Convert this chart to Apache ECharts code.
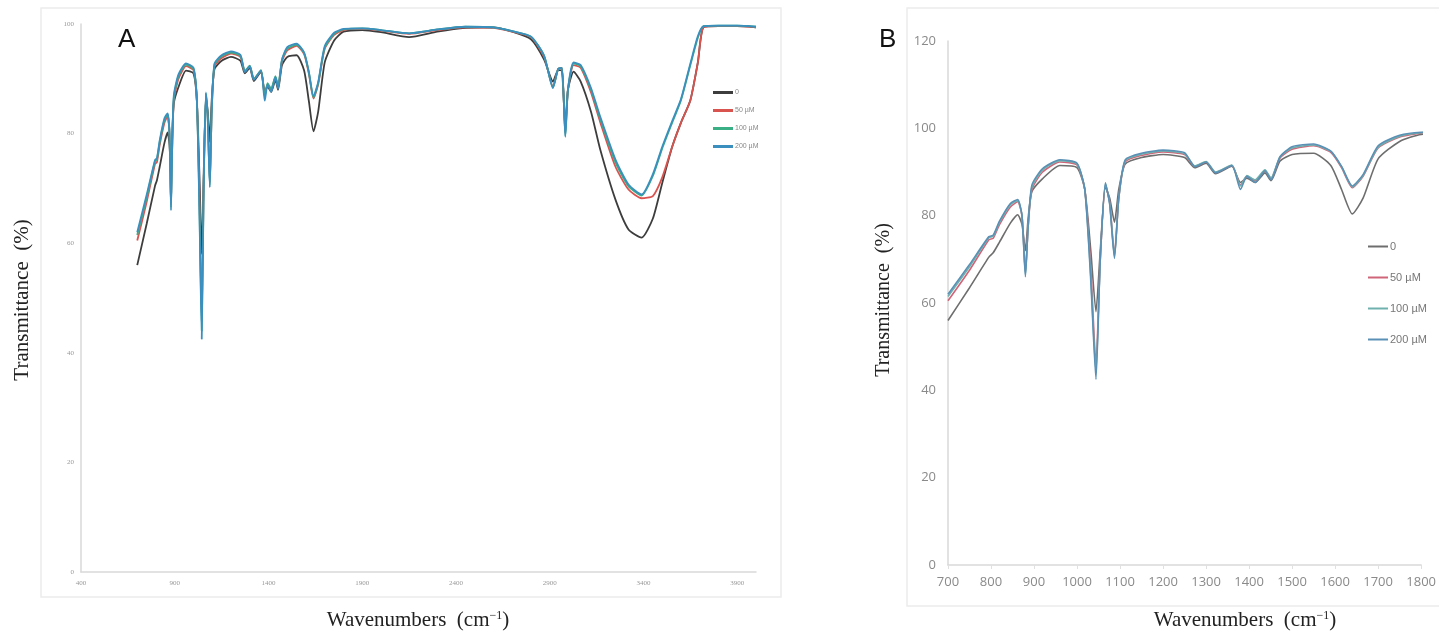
<!DOCTYPE html>
<html>
<head>
<meta charset="utf-8">
<title>FTIR spectra</title>
<script src="https://cdn.jsdelivr.net/npm/echarts@6/dist/echarts.min.js"></script>
<style>
  html, body { margin: 0; padding: 0; background: #fff; }
  #chart { width: 1439px; height: 637px; }
</style>
</head>
<body>
<div id="chart"></div>
<script>
// wavenumber (cm-1) shared by all series
var waveNumbers = [700, 750, 795, 805, 820, 845, 862, 872, 880, 886, 895, 920, 960, 1000, 1018, 1032, 1044, 1054, 1066, 1076, 1087, 1097, 1112, 1150, 1200, 1250, 1274, 1300, 1322, 1360, 1380, 1395, 1414, 1437, 1451, 1472, 1500, 1550, 1590, 1615, 1640, 1665, 1700, 1750, 1800, 1900, 2000, 2150, 2300, 2450, 2600, 2700, 2800, 2870, 2917, 2945, 2965, 2983, 2997, 3027, 3065, 3120, 3170, 3250, 3320, 3390, 3450, 3500, 3553, 3600, 3650, 3690, 3720, 3800, 3900, 4000];
// transmittance (%) per concentration
var trans0 = [56.0, 63.5, 70.5, 71.5, 74.0, 78.3, 80.2, 78.0, 72.0, 79.0, 85.5, 88.5, 91.5, 91.0, 86.0, 72.0, 58.0, 72.0, 86.5, 84.0, 78.5, 86.0, 91.8, 93.3, 94.0, 93.3, 91.0, 92.0, 89.6, 91.3, 87.6, 88.6, 87.6, 89.8, 88.0, 92.5, 94.0, 94.3, 91.5, 86.0, 80.4, 84.0, 93.0, 97.0, 98.6, 98.9, 98.5, 97.6, 98.6, 99.3, 99.4, 98.6, 97.2, 93.5, 89.5, 91.6, 91.5, 81.0, 88.0, 91.3, 89.5, 84.0, 77.0, 68.0, 62.5, 61.0, 64.5, 71.0, 77.6, 82.0, 86.1, 93.0, 99.4, 99.6, 99.6, 99.4];
var trans50 = [60.5, 67.5, 74.5, 74.8, 78.0, 82.0, 83.2, 80.0, 67.0, 77.0, 86.0, 90.0, 92.3, 91.6, 86.0, 68.0, 46.0, 70.0, 87.0, 83.0, 71.0, 84.0, 92.3, 93.8, 94.6, 94.0, 91.3, 92.3, 89.9, 91.5, 87.0, 89.0, 88.0, 90.3, 88.5, 93.2, 95.2, 96.0, 94.5, 91.0, 86.4, 89.0, 95.5, 98.0, 98.9, 99.1, 98.8, 98.2, 98.9, 99.4, 99.3, 98.6, 97.6, 94.0, 88.6, 91.8, 92.0, 80.0, 88.0, 92.5, 92.0, 87.5, 82.0, 74.0, 69.8, 68.2, 68.6, 72.0, 77.6, 82.0, 86.1, 93.0, 99.4, 99.6, 99.6, 99.4];
var trans100 = [61.5, 68.3, 75.0, 75.3, 78.5, 82.5, 83.5, 80.0, 66.5, 77.0, 86.5, 90.5, 92.6, 91.8, 86.0, 66.0, 44.0, 70.0, 87.3, 82.8, 70.6, 84.0, 92.6, 94.1, 94.8, 94.2, 91.4, 92.4, 90.0, 91.6, 86.8, 89.2, 88.2, 90.5, 88.6, 93.5, 95.5, 96.2, 94.7, 91.2, 86.6, 89.2, 95.7, 98.2, 99.0, 99.2, 98.9, 98.3, 99.0, 99.5, 99.4, 98.7, 97.7, 94.2, 88.4, 91.8, 92.0, 79.6, 88.0, 92.8, 92.3, 88.0, 82.6, 74.8, 70.4, 68.7, 72.3, 77.3, 82.0, 86.1, 92.5, 97.5, 99.6, 99.7, 99.7, 99.5];
var trans200 = [62.0, 68.8, 75.2, 75.5, 78.8, 82.8, 83.7, 80.0, 66.0, 77.0, 87.0, 90.8, 92.8, 92.0, 86.0, 65.0, 42.5, 70.0, 87.5, 82.5, 70.2, 84.0, 92.8, 94.3, 95.0, 94.4, 91.2, 92.3, 89.8, 91.5, 86.0, 89.0, 87.6, 90.3, 88.2, 93.5, 95.8, 96.4, 94.8, 91.3, 86.8, 89.4, 96.0, 98.4, 99.1, 99.2, 98.9, 98.3, 99.0, 99.5, 99.4, 98.7, 97.7, 94.2, 88.3, 91.8, 92.0, 79.4, 88.0, 93.0, 92.5, 88.3, 83.0, 75.3, 70.7, 68.9, 72.6, 77.6, 82.3, 86.3, 92.8, 97.8, 99.6, 99.7, 99.7, 99.5];

var seriesNames = ['0', '50 µM', '100 µM', '200 µM'];
var colorsA = ['#3d3d3d', '#d9534f', '#3aae85', '#3b8fbf'];
var colorsB = ['#6e6e6e', '#d06579', '#6fb1ad', '#5a90b5'];

function pairs(values) {
    return waveNumbers.map(function (w, i) { return [w, values[i]]; });
}
var allValues = [trans0, trans50, trans100, trans200];

var chart = echarts.init(document.getElementById('chart'));

var series = [];
allValues.forEach(function (vals, k) {
    // 左图 A
    series.push({
        name: seriesNames[k], type: 'line', xAxisIndex: 0, yAxisIndex: 0,
        data: pairs(vals), showSymbol: false, smooth: 0.2,
        lineStyle: { width: 1.8, color: colorsA[k] }, itemStyle: { color: colorsA[k] }
    });
});
allValues.forEach(function (vals, k) {
    // 右图 B (放大 700-1800)
    series.push({
        name: seriesNames[k], type: 'line', xAxisIndex: 1, yAxisIndex: 1,
        data: pairs(vals), showSymbol: false, smooth: 0.2, clip: true,
        lineStyle: { width: 1.6, color: colorsB[k] }, itemStyle: { color: colorsB[k] }
    });
});

function legendData(colors) {
    return seriesNames.map(function (n, i) {
        return { name: n, itemStyle: { color: colors[i] } };
    });
}
function plain(v) { return String(v); } // 不要千位分隔符

var serif = 'Liberation Serif, DejaVu Serif, serif';
var titleRich = {
    a: { fontFamily: serif, fontSize: 21, fill: '#222' },
    s: { fontFamily: serif, fontSize: 12, fill: '#222', verticalAlign: 'top' }
};

chart.setOption({
    backgroundColor: '#fff',
    animation: false,
    grid: [
        { left: 81, top: 24, width: 675, height: 548 },
        { left: 948, top: 41, width: 477, height: 524 }
    ],
    xAxis: [{
        gridIndex: 0, type: 'value', min: 400, max: 4000, interval: 500,
        axisLine: { lineStyle: { color: '#d9d9d9', width: 1.5 } },
        axisTick: { show: false },
        splitLine: { show: false },
        axisLabel: { fontSize: 7, color: '#999', margin: 8, showMaxLabel: false, fontFamily: 'Liberation Serif', formatter: plain }
    }, {
        gridIndex: 1, type: 'value', min: 700, max: 1800, interval: 100,
        axisLine: { lineStyle: { color: '#d9d9d9', width: 1.5 } },
        axisTick: { show: true, length: 4, lineStyle: { color: '#e0e0e0' } },
        splitLine: { show: false },
        axisLabel: { fontSize: 13, color: '#8a8a8a', margin: 11, fontFamily: 'Open Sans', formatter: plain }
    }],
    yAxis: [{
        gridIndex: 0, type: 'value', min: 0, max: 100, interval: 20,
        axisLine: { show: true, lineStyle: { color: '#d9d9d9', width: 1.5 } },
        axisTick: { show: false },
        splitLine: { show: false },
        axisLabel: { fontSize: 7, color: '#999', margin: 7, fontFamily: 'Liberation Serif' }
    }, {
        gridIndex: 1, type: 'value', min: 0, max: 120, interval: 20,
        axisLine: { show: true, lineStyle: { color: '#d9d9d9', width: 1.5 } },
        axisTick: { show: false },
        splitLine: { show: false },
        axisLabel: { fontSize: 13, color: '#8a8a8a', margin: 12, fontFamily: 'Open Sans' }
    }],
    legend: [{
        orient: 'vertical', left: 708, top: 84, icon: 'rect',
        itemWidth: 20, itemHeight: 3, itemGap: 11,
        textStyle: { fontSize: 7, color: '#888', padding: [0, 0, 0, -3] },
        data: legendData(colorsA)
    }, {
        orient: 'vertical', left: 1363, top: 236, icon: 'rect',
        itemWidth: 20, itemHeight: 2, itemGap: 20,
        textStyle: { fontSize: 11, color: '#777', padding: [0, 0, 0, -3] },
        data: legendData(colorsB)
    }],
    graphic: [
        // 外框
        { type: 'rect', shape: { x: 41, y: 8, width: 740, height: 589 }, style: { fill: 'none', stroke: '#ececec', lineWidth: 1.5 }, z: -1 },
        { type: 'rect', shape: { x: 907, y: 8, width: 560, height: 598 }, style: { fill: 'none', stroke: '#ececec', lineWidth: 1.5 }, z: -1 },
        { type: 'text', x: 118, y: 27, style: { text: 'A', font: '26px Liberation Sans', fill: '#111' } },
        { type: 'text', x: 879, y: 27, style: { text: 'B', font: '26px Liberation Sans', fill: '#111' } },
        // 坐标轴标题
        { type: 'text', x: 418, y: 620, style: { text: '{a|Wavenumbers  (cm}{s|−1}{a|)}', rich: titleRich, align: 'center', verticalAlign: 'middle' } },
        { type: 'text', x: 1245, y: 620, style: { text: '{a|Wavenumbers  (cm}{s|−1}{a|)}', rich: titleRich, align: 'center', verticalAlign: 'middle' } },
        { type: 'text', x: 22, y: 300, rotation: Math.PI / 2, style: { text: 'Transmittance  (%)', font: '21px Liberation Serif', fill: '#222', align: 'center', verticalAlign: 'middle' } },
        { type: 'text', x: 884, y: 300, rotation: Math.PI / 2, style: { text: 'Transmittance  (%)', font: '20px Liberation Serif', fill: '#222', align: 'center', verticalAlign: 'middle' } }
    ],
    series: series
});
</script>
</body>
</html>
